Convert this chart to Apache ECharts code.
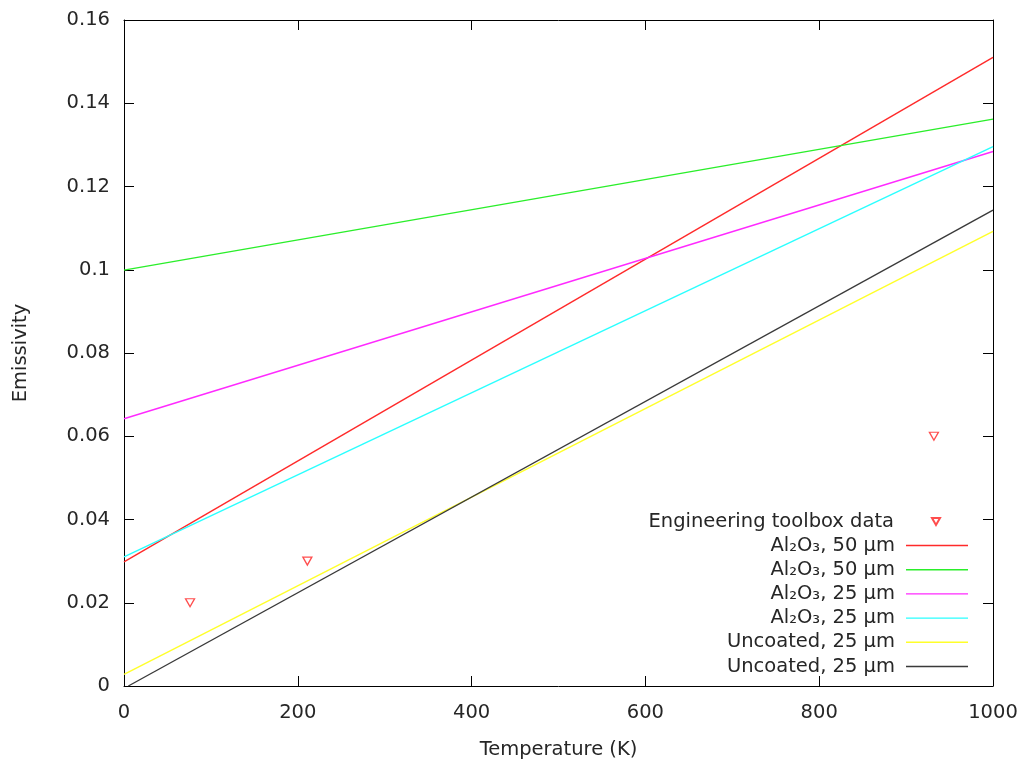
<!DOCTYPE html>
<html>
<head>
<meta charset="utf-8">
<script src="https://cdn.jsdelivr.net/npm/echarts@6/dist/echarts.min.js"></script>
<style>
  html, body { margin: 0; padding: 0; background: #fff; }
  #chart { width: 1025px; height: 763px; }
</style>
</head>
<body>
<div id="chart"></div>
<script>
// 数据 (读自参考图)
const toolboxData = [[76, 0.020], [211, 0.030], [932, 0.060]];
const al50a = [[0, 0.0298], [1000, 0.1510]];
const al50b = [[0, 0.0999], [1000, 0.1362]];
const al25a = [[0, 0.0642], [1000, 0.1284]];
const al25b = [[0, 0.0310], [1000, 0.1296]];
const unc25a = [[0, 0.0028], [1000, 0.1092]];
const unc25b = [[5, 0.0], [1000, 0.1143]];

// 名称重复，尾部空格只用于区分，图例显示时去掉
const lineNames = ['Al₂O₃, 50 µm', 'Al₂O₃, 50 µm ', 'Al₂O₃, 25 µm', 'Al₂O₃, 25 µm ', 'Uncoated, 25 µm', 'Uncoated, 25 µm '];
const lineData = [al50a, al50b, al25a, al25b, unc25a, unc25b];
const lineColors = ['#ff2a2a', '#2aee2a', '#ff2aff', '#2affff', '#ffff2a', '#3a3a3a'];

const FONT = 'DejaVu Sans';
const TXT = '#262626';

let myChart = echarts.init(document.getElementById('chart'));

// 公共坐标轴配置
function xAxisCfg(pos, showLabel) {
  return {
    type: 'value', position: pos, min: 0, max: 1000, interval: 200,
    axisLine: { show: true, onZero: false, lineStyle: { color: '#000', width: 1 } },
    axisTick: { show: true, inside: true, length: 10, lineStyle: { color: '#000' } },
    axisLabel: { show: showLabel, margin: 17, color: TXT, fontFamily: FONT, fontSize: 19.5,
      formatter: (v) => String(v) },
    splitLine: { show: false }
  };
}
function yAxisCfg(pos, showLabel) {
  return {
    type: 'value', position: pos, min: 0, max: 0.16, interval: 0.02,
    axisLine: { show: true, onZero: false, lineStyle: { color: '#000', width: 1 } },
    axisTick: { show: true, inside: true, length: 10, lineStyle: { color: '#000' } },
    axisLabel: { show: showLabel, margin: 14, color: TXT, fontFamily: FONT, fontSize: 19.5 },
    splitLine: { show: false }
  };
}

let xBottom = xAxisCfg('bottom', true);
xBottom.name = 'Temperature (K)';
xBottom.nameLocation = 'middle';
xBottom.nameGap = 54;
xBottom.nameTextStyle = { color: TXT, fontFamily: FONT, fontSize: 19.5 };
let yLeft = yAxisCfg('left', true);
yLeft.name = 'Emissivity';
yLeft.nameLocation = 'middle';
yLeft.nameGap = 93;
yLeft.nameTextStyle = { color: TXT, fontFamily: FONT, fontSize: 19.5 };

let series = [{
  name: 'Engineering toolbox data',
  type: 'scatter',
  data: toolboxData,
  symbol: 'path://M0,0 L10,0 L5,9 Z',
  symbolSize: [9, 8],
  itemStyle: { color: '#ffffff', borderColor: '#ff2020', borderWidth: 1.3 },
  z: 5
}];
lineData.forEach((d, i) => {
  series.push({
    name: lineNames[i],
    type: 'line',
    data: d,
    symbol: 'none',
    lineStyle: { color: lineColors[i], width: 1.4 },
    itemStyle: { color: lineColors[i] }
  });
});

let options = {
  animation: false,
  backgroundColor: '#fff',
  textStyle: { fontFamily: FONT },
  grid: { left: 124, right: 32, top: 20, bottom: 77, containLabel: false, outerBoundsMode: 'none' },
  legend: [{
    data: [{ name: 'Engineering toolbox data',
      icon: 'path://M0,0 M62,10 M27,1 L35,1 L31,8 Z' }],
    orient: 'vertical', align: 'right',
    right: 57, top: 512, padding: 0,
    itemWidth: 62, itemHeight: 10, itemGap: 0,
    selectedMode: false,
    textStyle: { color: TXT, fontFamily: FONT, fontSize: 19.5, padding: [0, 6, 0, 0] }
  }, {
    data: lineNames.map(n => ({ name: n, icon: 'rect' })),
    formatter: (name) => name.trim(),
    orient: 'vertical', align: 'right',
    right: 57, top: 535, padding: 0,
    itemWidth: 62, itemHeight: 1.4, itemGap: 3.2,
    selectedMode: false,
    textStyle: { color: TXT, fontFamily: FONT, fontSize: 19.5, lineHeight: 21, padding: [0, 6, 0, 0] }
  }],
  xAxis: [xBottom, xAxisCfg('top', false)],
  yAxis: [yLeft, yAxisCfg('right', false)],
  series: series
};
myChart.setOption(options, true);
</script>
</body>
</html>
